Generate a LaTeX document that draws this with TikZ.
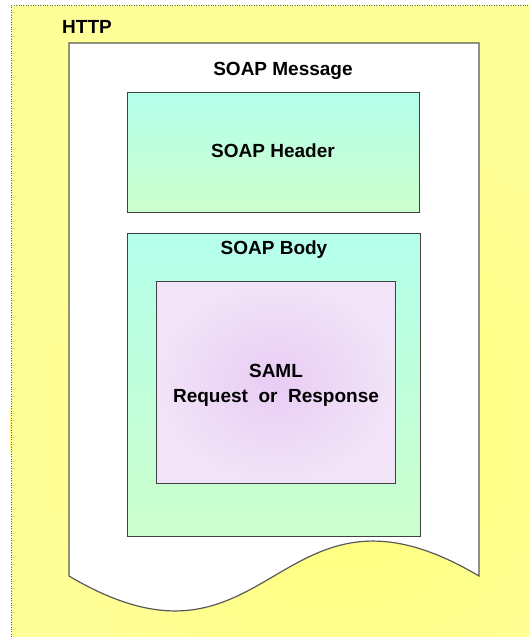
\documentclass[tikz,border=0pt]{standalone}
\usepackage{fontspec}
\setmainfont{Liberation Sans}
\definecolor{bgyellow}{HTML}{FFFF99}
\definecolor{bgcore}{HTML}{FFFF78}
\definecolor{mint}{HTML}{B5FFEC}
\definecolor{palegreen}{HTML}{CCFFCC}
\definecolor{lavcore}{HTML}{E8CCF4}
\definecolor{lavedge}{HTML}{F2E4F8}
\begin{document}
\begin{tikzpicture}[x = 1pt,y = -1pt,font = \fontsize{19}{25}\selectfont\bfseries]
	\useasboundingbox (0,0) rectangle (528,637);
	\fill[bgyellow] (11,5) rectangle (540,650);
	\shade[inner color = bgcore,outer color = bgyellow] (340,430) circle (330);
	\draw[dotted,gray!80!black] (11,5) rectangle (540,650);
	\node[anchor = base] (http) at (87,33) {HTTP};
	\draw[fill = white,draw = gray!70!black,line width = 1.2pt] (69,43) -- (479,43) -- (479,576) .. controls (275,455) and (273,697) .. (69,576) -- cycle;
	\node[anchor = base] (msg) at (283,75) {SOAP Message};
	\shade[top color = mint,bottom color = palegreen,draw = black!75] (127,92) rectangle (419,212);
	\node[anchor = base] (header) at (273,157) {SOAP Header};
	\shade[top color = mint,bottom color = palegreen,draw = black!75] (127,233) rectangle (420,536);
	\node[anchor = base] (body) at (274,254) {SOAP Body};
	\shade[inner color = lavcore,outer color = lavedge,draw = black!75] (156,281) rectangle (395,483);
	\node[anchor = base,align = center] (saml) at (276,402) {SAML\\Request~ or~ Response};
	\end{tikzpicture}
\end{document}
